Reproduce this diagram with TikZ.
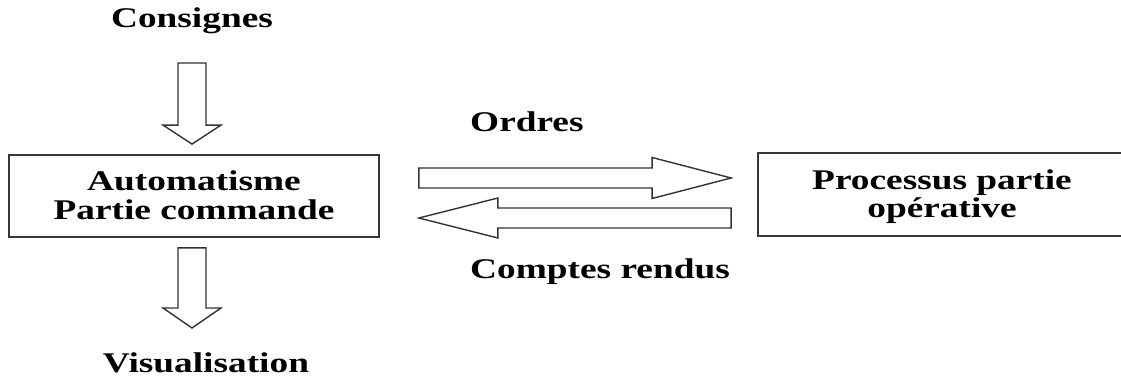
\documentclass[tikz,border=0pt]{standalone}
\usepackage{fontspec}
\setmainfont{Liberation Serif}
\usepackage{graphicx}
\usetikzlibrary{calc}

% Wide bold lettering
\newcommand{\widetext}[1]{\scalebox{1.31}[1]{#1}}

% Outlined block arrow: #1 tail, #2 tip, #3 shaft half width,
% #4 head half width, #5 head length
\newcommand{\blockarrow}[5]{%
  \path ($(#2)!#5!(#1)$) coordinate (hb);
  \draw[arrowline] ($(#1)!#3!90:(#2)$) -- ($(hb)!#3!90:(#2)$)
    -- ($(hb)!#4!90:(#2)$) -- (#2) -- ($(hb)!#4!-90:(#2)$)
    -- ($(hb)!#3!-90:(#2)$) -- ($(#1)!#3!-90:(#2)$) -- cycle;}

\begin{document}
\begin{tikzpicture}[x=1pt,y=1pt,
  lbl/.style={inner sep=0pt, text=black,
    font=\fontsize{28.5}{29.5}\selectfont\bfseries},
  panel/.style={draw=black!78, line width=1.8pt, rectangle, inner sep=0pt},
  arrowline/.style={draw=black!80, line width=1.4pt, fill=white,
    line join=miter}]

  \useasboundingbox (0,0) rectangle (1121,378);

  % Blocks (the right one runs past the page edge)
  \node[panel, minimum width=370pt, minimum height=82pt] (auto) at (194,182) {};
  \node[panel, minimum width=380pt, minimum height=83pt] (proc) at (948,183.5) {};

  \node[lbl, anchor=base] (autotxt) at (194,188)
    {\widetext{\begin{tabular}[t]{@{}c@{}}Automatisme\\Partie commande\end{tabular}}};
  \node[lbl, anchor=base] (proctxt) at (942,189)
    {\widetext{\begin{tabular}[t]{@{}c@{}}Processus partie\\[-1.5pt]op\'erative\end{tabular}}};

  % Flow labels
  \node[lbl, anchor=base] (cons) at (192,350) {\widetext{Consignes}};
  \node[lbl, anchor=base] (visu) at (206,6) {\widetext{Visualisation}};
  \node[lbl, anchor=base west] (ord) at (470,246) {\widetext{Ordres}};
  \node[lbl, anchor=base west] (cr) at (470,100) {\widetext{Comptes rendus}};

  % Arrow end points
  \coordinate (a1s) at ($(cons.base)+(0,-35)$);
  \coordinate (a1t) at ($(auto.north)+(-2,10)$);
  \coordinate (a2s) at ($(auto.south)+(-2,-10)$);
  \coordinate (a2t) at ($(visu.base)+(-14,44)$);
  \coordinate (a3s) at ($(auto.east)+(39,18)$);
  \coordinate (a3t) at ($(proc.west)+(-26,16.5)$);
  \coordinate (a4s) at ($(proc.west)+(-26,-23.5)$);
  \coordinate (a4t) at ($(auto.east)+(39,-22)$);

  % Block arrows
  \blockarrow{a1s}{a1t}{14pt}{29pt}{19pt}
  \blockarrow{a2s}{a2t}{14pt}{29pt}{20pt}
  \blockarrow{a3s}{a3t}{10pt}{20.5pt}{79pt}
  \blockarrow{a4s}{a4t}{10pt}{20pt}{79pt}
\end{tikzpicture}
\end{document}
